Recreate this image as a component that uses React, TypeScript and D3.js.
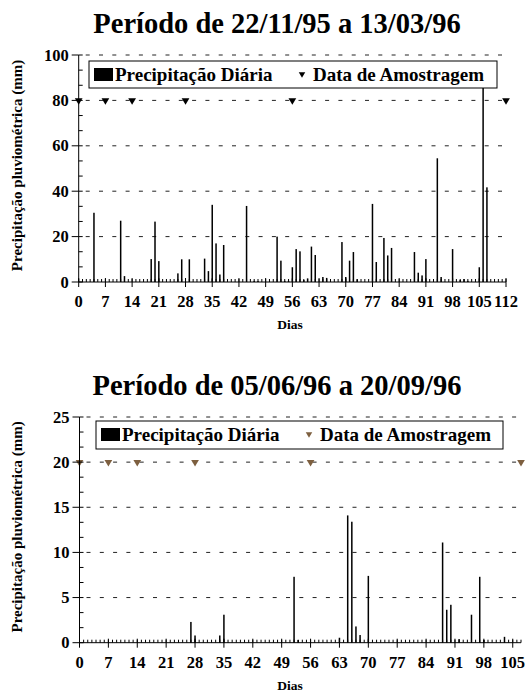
import React from "react";
import * as d3 from "d3";

// Período 1 (22/11/95 a 13/03/96)
const dias1 = [4, 11, 12, 19, 20, 21, 26, 27, 29, 33, 34, 35, 36, 37, 38, 44, 46, 47, 52, 53, 54, 55, 56, 57, 58, 59, 60, 61, 62, 64, 65, 69, 70, 71, 72, 73, 77, 78, 80, 81, 82, 88, 89, 90, 91, 94, 95, 98, 100, 101, 102, 105, 106, 107];
const precip1 = [30.5, 27, 2.6, 10.1, 26.6, 9.2, 3.8, 10, 10, 10.3, 4.8, 34, 17, 3.3, 16.3, 33.5, 0.5, 0.4, 20, 9.4, 0.5, 0.5, 6.5, 14.5, 13.5, 0.9, 1.6, 15.6, 11.9, 2.2, 1.8, 17.6, 2.2, 9.4, 13.2, 1.2, 34.4, 8.8, 19.4, 11.7, 15, 13.2, 4.1, 2.9, 10.1, 54.5, 2.2, 14.5, 0.9, 1.3, 0.5, 6.5, 92, 41.7];
const amostras1 = [0, 7, 14, 28, 56, 112];

// Período 2 (05/06/96 a 20/09/96)
const dias2 = [27, 28, 34, 35, 52, 53, 63, 65, 66, 67, 68, 70, 88, 89, 90, 92, 95, 97, 98, 103];
const precip2 = [2.3, 0.8, 0.8, 3.1, 7.3, 0.3, 0.55, 14.1, 13.4, 1.8, 0.85, 7.4, 11.1, 3.65, 4.2, 0.4, 3.1, 7.3, 0.3, 0.65];
const amostras2 = [0, 7, 14, 28, 56, 107];

const FONT = '"Liberation Serif", "Times New Roman", "DejaVu Serif", serif';

type PanelProps = {
  title: string;
  dias: number[];
  valores: number[];
  amostras: number[];
  nivelAmostra: number;
  xMax: number;
  yMax: number;
  yStep: number;
  left: number;
  right: number;
  top: number;
  bottom: number;
  legend: [number, number, number, number];
  markerColor: string;
};

function Panel(p: PanelProps) {
  const x = d3.scaleLinear().domain([0, p.xMax]).range([p.left, p.right]);
  const y = d3.scaleLinear().domain([0, p.yMax]).range([p.bottom, p.top]);
  const majorY = d3.range(0, p.yMax + 0.001, p.yStep);
  const minorY = d3.range(0, p.yMax + 0.001, p.yStep / 3);
  const majorX = d3.range(0, p.xMax + 0.001, 7);
  const minorX = d3.range(0, p.xMax + 1, 1);
  const tri = d3.symbol().type(d3.symbolTriangle).size(26)();
  const [lx, ly, lw, lh] = p.legend;
  const midY = (p.top + p.bottom) / 2 - 3;
  return (
    <g style={{ fontFamily: FONT, fontWeight: "bold" }}>
      <text x={277} y={p.top - 22} fontSize={28.5} textAnchor="middle">{p.title}</text>
      {majorY.slice(1).map((v) => (
        <line key={"g" + v} x1={p.left + 7} x2={p.right} y1={y(v)} y2={y(v)} stroke="#222" strokeWidth={1} strokeDasharray="4 9.3" />
      ))}
      {p.dias.map((d, i) => (
        <rect key={"b" + d} x={x(d) - 0.75} width={1.5} y={y(p.valores[i])} height={p.bottom - y(p.valores[i])} fill="#000" />
      ))}
      {p.amostras.map((d) => (
        <path key={"a" + d} d={tri} transform={`translate(${x(d)},${y(p.nivelAmostra)}) rotate(180)`} fill={p.markerColor} />
      ))}
      <line x1={p.left} x2={p.left} y1={p.top} y2={p.bottom} stroke="#000" />
      <line x1={p.left} x2={p.right} y1={p.bottom} y2={p.bottom} stroke="#000" />
      {minorY.map((v) => (
        <line key={"my" + v} x1={p.left} x2={p.left + 4} y1={y(v)} y2={y(v)} stroke="#000" />
      ))}
      {majorY.map((v) => (
        <g key={"ty" + v}>
          <line x1={p.left - 7} x2={p.left} y1={y(v)} y2={y(v)} stroke="#000" />
          <text x={p.left - 10} y={y(v) + 5.5} fontSize={16.5} textAnchor="end">{v}</text>
        </g>
      ))}
      {minorX.map((v) => (
        <line key={"mx" + v} x1={x(v)} x2={x(v)} y1={p.bottom} y2={p.bottom - 3} stroke="#000" />
      ))}
      {majorX.map((v) => (
        <g key={"tx" + v}>
          <line x1={x(v)} x2={x(v)} y1={p.bottom - 4} y2={p.bottom + 5} stroke="#000" />
          <text x={x(v)} y={p.bottom + 25} fontSize={16.5} textAnchor="middle">{v}</text>
        </g>
      ))}
      <text x={290} y={p.bottom + 47} fontSize={13.5} textAnchor="middle">Dias</text>
      <text transform={`translate(22,${midY}) rotate(-90)`} fontSize={15} textAnchor="middle">Precipitação pluviométrica (mm)</text>
      <rect x={lx} y={ly} width={lw} height={lh} fill="#fff" stroke="#000" />
      <rect x={lx + 5} y={ly + 7} width={19} height={13} fill="#000" />
      <text x={lx + 26} y={ly + 20} fontSize={19}>Precipitação Diária</text>
      <path d={d3.symbol().type(d3.symbolTriangle).size(18)()} transform={`translate(${lx + 213},${ly + 13}) rotate(180)`} fill={p.markerColor} />
      <text x={lx + 224} y={ly + 20} fontSize={19}>Data de Amostragem</text>
    </g>
  );
}

export default function App() {
  return (
    <svg width={525} height={695} style={{ position: "absolute", left: 0, top: 0, background: "#fff" }}>
      <Panel
        title="Período de 22/11/95 a 13/03/96"
        dias={dias1}
        valores={precip1}
        amostras={amostras1}
        nivelAmostra={80}
        xMax={112}
        yMax={100}
        yStep={20}
        left={78.7}
        right={506}
        top={55}
        bottom={282}
        legend={[89, 61, 408, 27]}
        markerColor="#000"
      />
      <Panel
        title="Período de 05/06/96 a 20/09/96"
        dias={dias2}
        valores={precip2}
        amostras={amostras2}
        nivelAmostra={20}
        xMax={107}
        yMax={25}
        yStep={5}
        left={79.5}
        right={521}
        top={417}
        bottom={642.7}
        legend={[96, 421, 407, 28]}
        markerColor="#7d5f3f"
      />
    </svg>
  );
}
